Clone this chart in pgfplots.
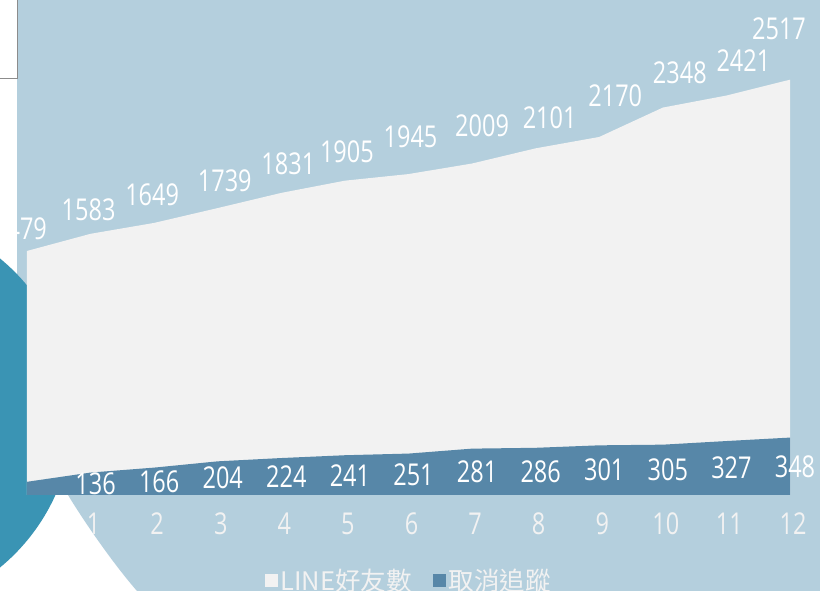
\documentclass[border=0pt]{standalone}
\usepackage{fontspec}
\setmainfont{Open Sans}
\newfontfamily\cjk{Noto Sans CJK TC}
\usepackage{graphicx}
\usepackage{pgfplots}
\usepackage{pgfplotstable}
\pgfplotsset{compat=1.18}
\definecolor{bgblue}{RGB}{180,207,221}
\definecolor{areawhite}{RGB}{242,242,242}
\definecolor{areadark}{RGB}{87,135,168}
\definecolor{tealc}{RGB}{58,148,180}
\newcommand\lblfont{\fontsize{23.5}{28}\selectfont}
\newcommand\legfont{\fontsize{25.5}{30}\selectfont\cjk}

% LINE friends: i, value, label offsets (dx, dy in px)
\pgfplotstableread{
i v dx dy
0 1479 -7 22
1 1583 -2 24
2 1649 -2 28
3 1739 7 27
4 1831 7 29
5 1905 2 29
6 1945 2 37
7 2009 10 37.5
8 2101 14 31
9 2170 16 41
10 2348 17 35
11 2421 17 35
12 2517 -11 51
}\linetab
% unfollow
\pgfplotstableread{
i v
0 80
1 136
2 166
3 204
4 224
5 241
6 251
7 281
8 286
9 301
10 305
11 327
12 348
}\darktab

\begin{document}
\begin{tikzpicture}
\clip (0,0) rectangle (820pt,591pt);
\begin{scope}[x=1pt,y=-1pt,yshift=591pt]
  \fill[white] (0,0) rectangle (820,591);
  \fill[bgblue] (17,0) -- (820,0) -- (820,591) -- (137,591)
     .. controls (110,560) and (80,515) .. (68,495) -- (17,300) -- cycle;
  \fill[tealc] (-127,413) circle (200pt);
\end{scope}
\begin{axis}[
  at={(27pt,96pt)}, anchor=south west,
  scale only axis, width=763pt, height=495pt,
  xmin=0, xmax=12, ymin=0, ymax=3000,
  clip=false,
  axis line style={draw=none},
  major tick length=0pt,
  ytick=\empty,
  xtick={1,2,...,12},
  xticklabel={\scalebox{1}[1.28]{\pgfmathprintnumber[assume math mode=true]{\tick}}},
  xticklabel style={anchor=center, yshift=-29pt, xshift=3pt, text=areawhite, font=\lblfont, inner sep=0pt},
  legend style={at={(axis description cs:0.501,-0.172)}, anchor=center,
    draw=none, fill=none, legend columns=-1, text=areawhite,
    nodes={font=\legfont, inner xsep=3pt},
    /tikz/every even column/.append style={column sep=18pt}},
  legend image code/.code={\fill[#1] (0pt,-6.5pt) rectangle (13pt,6.5pt);},
]
\addplot[fill=areawhite, draw=none] table[x=i,y=v]{\linetab} \closedcycle;
\addlegendentry{LINE好友數}
\addplot[fill=areadark, draw=none] table[x=i,y=v]{\darktab} \closedcycle;
\addlegendentry{取消追蹤}

\addplot[draw=none, mark=none, forget plot,
  point meta=explicit symbolic,
  visualization depends on={\thisrow{dx}\as\dx},
  visualization depends on={\thisrow{dy}\as\dy},
  nodes near coords={\scalebox{1}[1.28]{\pgfplotspointmeta}},
  every node near coord/.append style={anchor=center, xshift=\dx, yshift=\dy,
     text=white, font=\lblfont, inner sep=0pt}]
  table[x=i,y=v,meta=v]{\linetab};

\addplot[draw=none, mark=none, forget plot,
  skip coords between index={0}{1},
  point meta=explicit symbolic,
  nodes near coords={\scalebox{1}[1.28]{\pgfplotspointmeta}},
  every node near coord/.append style={anchor=center, xshift=5pt,
     text=white, font=\lblfont, inner sep=0pt}]
  table[x=i,y expr=\thisrow{v}/2,meta=v]{\darktab};
\end{axis}
\begin{scope}[x=1pt,y=-1pt,yshift=591pt]
  \fill[white] (0,79) rectangle (17,258);
  \fill[white] (0,0) rectangle (17,79);
  \draw[gray!90, line width=1pt] (17,0) -- (17,79) -- (0,79);
\end{scope}
\end{tikzpicture}
\end{document}
